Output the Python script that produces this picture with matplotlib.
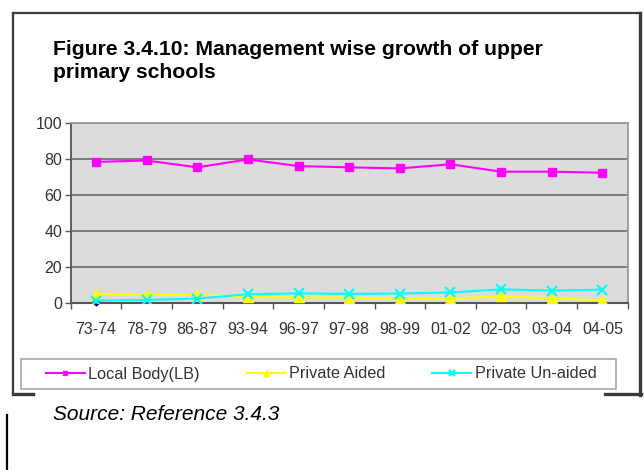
import matplotlib.pyplot as plt
from matplotlib.patches import Rectangle
from matplotlib.lines import Line2D
from matplotlib.ticker import MultipleLocator

plt.rcParams['font.family'] = ['Liberation Sans', 'DejaVu Sans']

# data
years = ['73-74', '78-79', '86-87', '93-94', '96-97', '97-98',
         '98-99', '01-02', '02-03', '03-04', '04-05']
local_body = [78.2, 79.0, 75.2, 79.6, 75.9, 75.2, 74.6, 76.9, 72.8, 72.8, 72.2]
private_aided = [4.9, 4.3, 4.3, 3.2, 2.9, 2.8, 2.2, 2.3, 3.6, 2.5, 1.3]
private_unaided = [1.2, 1.5, 2.3, 4.7, 5.2, 4.9, 5.1, 5.7, 7.4, 6.7, 7.3]
# stray dark blue point at the first year (no legend entry)
other_first = [0.3]

W, H = 644, 470
fig = plt.figure(figsize=(6.44, 4.70), dpi=100)


def fx(px):
    return px / W


def fy(py):
    return 1 - py / H


# outer frame with a little shadow on right / bottom
fc = '#3a3a3a'
fig.add_artist(Line2D([fx(13), fx(13)], [fy(13), fy(394)], color=fc, lw=1.6))
fig.add_artist(Line2D([fx(13), fx(640)], [fy(13), fy(13)], color=fc, lw=1.6))
fig.add_artist(Line2D([fx(640), fx(640)], [fy(13), fy(395)], color=fc, lw=2.4))
fig.add_artist(Line2D([fx(13), fx(33)], [fy(394), fy(394)], color=fc, lw=2.4))
fig.add_artist(Line2D([fx(605), fx(641)], [fy(394), fy(394)], color=fc, lw=2.4))

# title
fig.text(fx(53), fy(40), 'Figure 3.4.10: Management wise growth of upper\nprimary schools',
         fontsize=15.2, fontweight='bold', ha='left', va='top', linespacing=1.3)

# plot area
ax = fig.add_axes([fx(70.7), fy(302.7), fx(627.7) - fx(70.7), (302.7 - 122.7) / H])
ax.set_facecolor('#dcdcdc')
x = list(range(len(years)))

ax.plot(x, local_body, color='#ff00ff', marker='s', markersize=5.5, lw=1.5,
        label='Local Body(LB)', zorder=4)
ax.plot(x, private_aided, color='#ffff00', marker='^', markersize=6.5, lw=1.5,
        label='Private Aided', zorder=3)
ax.plot(x, private_unaided, color='#00ffff', marker='x', markersize=6.5, mew=1.6,
        lw=1.5, label='Private Un-aided', zorder=5)
ax.plot(x[:1], other_first, color='#000080', marker='D', markersize=3.5, lw=0,
        zorder=2, clip_on=False)

ax.set_xlim(-0.5, len(years) - 0.5)
ax.set_ylim(0, 100)
ax.yaxis.set_major_locator(MultipleLocator(20))
ax.grid(axis='y', color='#767670', lw=1.3)
ax.set_axisbelow(True)

ax.set_xticks(x)
ax.set_xticklabels(years)
ax.set_xticks([i + 0.5 for i in range(-1, len(years))], minor=True)
ax.tick_params(axis='x', which='major', length=0, pad=14, labelsize=11.5, labelcolor='#333333')
ax.tick_params(axis='x', which='minor', length=4, color='#555555', width=1)
ax.tick_params(axis='y', length=4, color='#555555', width=1, pad=2,
               labelsize=11.5, labelcolor='#333333')

for s in ['top', 'right']:
    ax.spines[s].set_color('#9a9a9a')
    ax.spines[s].set_linewidth(1.3)
ax.spines['left'].set_color('#555555')
ax.spines['bottom'].set_color('#555555')
ax.spines['left'].set_linewidth(1.3)
ax.spines['bottom'].set_linewidth(1.5)

# legend box
fig.add_artist(Rectangle((fx(21), fy(389)), fx(616) - fx(21), (389 - 359) / H,
                         facecolor='white', edgecolor='#a8a8a8', lw=1.2))
fig.legend(loc='center', bbox_to_anchor=(fx(321), fy(374)), ncol=3, frameon=False,
           fontsize=11.7, handlelength=2.4, handletextpad=0.2, columnspacing=2.9,
           markerscale=0.65, labelcolor='#333333')

# source note
fig.text(fx(53), fy(415), 'Source: Reference 3.4.3', fontsize=15, style='italic',
         ha='left', va='center')
fig.add_artist(Line2D([fx(7), fx(7)], [fy(415), fy(470)], color='black', lw=1.6))

fig.savefig('out.png', dpi=100)
